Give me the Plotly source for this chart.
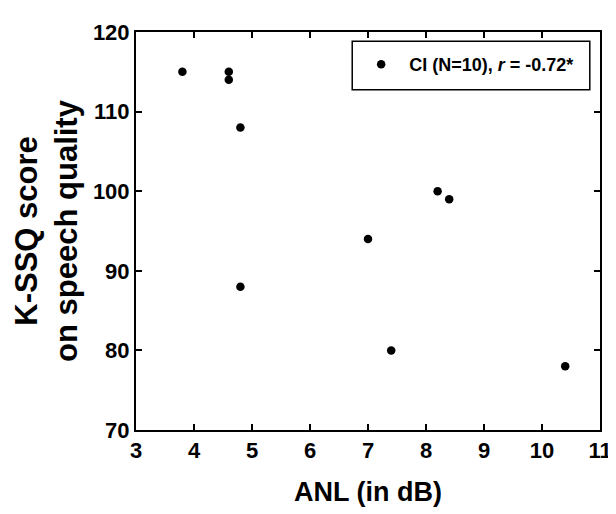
import plotly.graph_objects as go

anl = [3.8, 4.6, 4.6, 4.8, 4.8, 7.0, 7.4, 8.2, 8.4, 10.4]
kssq = [115, 115, 114, 108, 88, 94, 80, 100, 99, 78]
series_name = "CI (N=10), <i>r</i> = -0.72*"
x_ticks = [3, 4, 5, 6, 7, 8, 9, 10, 11]
y_ticks = [70, 80, 90, 100, 110, 120]

FONT = "Liberation Sans, Arial, sans-serif"

fig = go.Figure()
fig.add_trace(go.Scatter(
    x=anl, y=kssq, mode="markers", name=series_name,
    marker=dict(color="black", size=8.5),
))

axis_common = dict(
    showline=True, linecolor="black", linewidth=2, mirror="ticks",
    ticks="inside", ticklen=6, tickwidth=1.5, tickcolor="black",
    showgrid=False, zeroline=False,
    tickfont=dict(family=FONT, size=22, color="black", weight="bold"),
)

fig.update_xaxes(
    range=[3, 11], tickvals=x_ticks, ticktext=[str(v) for v in x_ticks],
    title=dict(text="ANL (in dB)", font=dict(family=FONT, size=27, color="black", weight="bold"), standoff=20),
    **axis_common,
)
fig.update_yaxes(
    range=[70, 120], tickvals=y_ticks, ticktext=[str(v) for v in y_ticks],
    title=dict(text="K-SSQ score<br>on speech quality", font=dict(family=FONT, size=31, color="black", weight="bold"), standoff=6),
    **axis_common,
)

fig.add_shape(type="rect", xref="paper", yref="paper",
              x0=0.466, x1=0.978, y0=0.855, y1=0.977,
              line=dict(color="black", width=1.5), fillcolor="rgba(0,0,0,0)")

fig.update_layout(
    width=616, height=514,
    margin=dict(l=128, r=18, t=23, b=92),
    plot_bgcolor="white", paper_bgcolor="white",
    showlegend=True,
    legend=dict(x=0.468, y=0.918, xanchor="left", yanchor="middle",
                itemwidth=46,
                bgcolor="rgba(0,0,0,0)", borderwidth=0,
                font=dict(family=FONT, size=18, color="black", weight="bold")),
)

fig.write_html("out.html")
